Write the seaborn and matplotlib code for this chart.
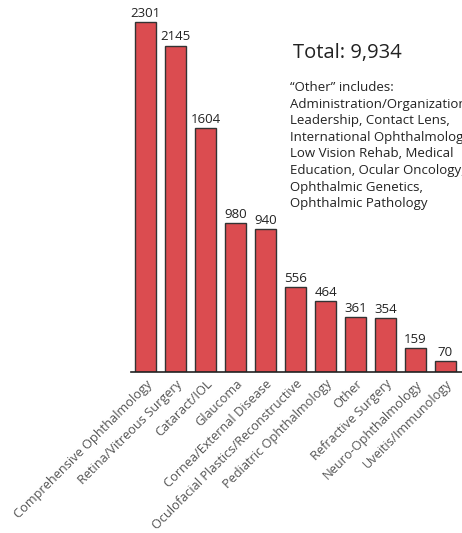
import matplotlib
matplotlib.use("Agg")
import matplotlib.pyplot as plt
import seaborn as sns
import pandas as pd

categories = ["Comprehensive Ophthalmology", "Retina/Vitreous Surgery", "Cataract/IOL",
              "Glaucoma", "Cornea/External Disease", "Oculofacial Plastics/Reconstructive",
              "Pediatric Ophthalmology", "Other", "Refractive Surgery",
              "Neuro-Ophthalmology", "Uveitis/Immunology"]
counts = [2301, 2145, 1604, 980, 940, 556, 464, 361, 354, 159, 70]
total_label = "Total: 9,934"
other_note = ("\u201cOther\u201d includes:\nAdministration/Organization,\nLeadership, Contact Lens,\n"
              "International Ophthalmology,\nLow Vision Rehab, Medical\nEducation, Ocular Oncology,\n"
              "Ophthalmic Genetics,\nOphthalmic Pathology")

df = pd.DataFrame({"category": categories, "count": counts})

sns.set_style("white")
plt.rcParams['font.family'] = ['Open Sans', 'DejaVu Sans']

fig = plt.figure(figsize=(4.62, 5.33), dpi=100)
ax = fig.add_axes([0.283, 0.302, 0.72, 0.685])

sns.barplot(data=df, x="category", y="count", color="#db4c50", width=0.7,
            edgecolor="#333333", linewidth=1.0, saturation=1, ax=ax)

for i, v in enumerate(counts):
    ax.text(i, v + 15, str(v), ha="center", va="bottom", fontsize=9.5, color="#222222")

ax.set_xlim(-0.5, 10.6)
ax.set_ylim(0, 2400)
ax.set_xlabel("")
ax.set_ylabel("")
ax.set_yticks([])
for s in ["top", "right", "left"]:
    ax.spines[s].set_visible(False)
ax.spines["bottom"].set_color("#222222")
ax.spines["bottom"].set_linewidth(1.2)

ax.set_xticks(range(len(categories)))
ax.set_xticklabels(categories, rotation=45, ha="right", rotation_mode="anchor",
                   fontsize=9.2, color="#555555")
ax.tick_params(axis="x", length=0, pad=4)
ax.set_xticks([i - 0.5 for i in range(len(categories))], minor=True)
ax.tick_params(axis="x", which="minor", length=4, width=1, color="#222222", direction="out")

fig.text(0.634, 0.901, total_label, fontsize=14.5, color="#222222", va="center")
fig.text(0.628, 0.848, other_note, fontsize=9.5, color="#222222", va="top", linespacing=1.36)

fig.savefig("out.png", dpi=100)
